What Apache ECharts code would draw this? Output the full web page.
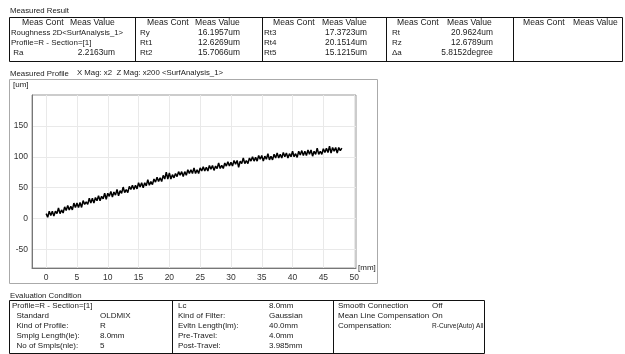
<!DOCTYPE html>
<html>
<head>
<meta charset="utf-8">
<script src="https://cdn.jsdelivr.net/npm/echarts@6/dist/echarts.min.js"></script>
<style>
  html, body { margin: 0; padding: 0; background: #fff; }
  #chart { width: 625px; height: 354px; }
</style>
</head>
<body>
<div id="chart"></div>
<script>
const profileX = [
  0, 0.25, 0.5, 0.75, 1, 1.25, 1.5, 1.75, 2, 2.25, 2.5, 2.75,
  3, 3.25, 3.5, 3.75, 4, 4.25, 4.5, 4.75, 5, 5.25, 5.5, 5.75,
  6, 6.25, 6.5, 6.75, 7, 7.25, 7.5, 7.75, 8, 8.25, 8.5, 8.75,
  9, 9.25, 9.5, 9.75, 10, 10.25, 10.5, 10.75, 11, 11.25, 11.5, 11.75,
  12, 12.25, 12.5, 12.75, 13, 13.25, 13.5, 13.75, 14, 14.25, 14.5, 14.75,
  15, 15.25, 15.5, 15.75, 16, 16.25, 16.5, 16.75, 17, 17.25, 17.5, 17.75,
  18, 18.25, 18.5, 18.75, 19, 19.25, 19.5, 19.75, 20, 20.25, 20.5, 20.75,
  21, 21.25, 21.5, 21.75, 22, 22.25, 22.5, 22.75, 23, 23.25, 23.5, 23.75,
  24, 24.25, 24.5, 24.75, 25, 25.25, 25.5, 25.75, 26, 26.25, 26.5, 26.75,
  27, 27.25, 27.5, 27.75, 28, 28.25, 28.5, 28.75, 29, 29.25, 29.5, 29.75,
  30, 30.25, 30.5, 30.75, 31, 31.25, 31.5, 31.75, 32, 32.25, 32.5, 32.75,
  33, 33.25, 33.5, 33.75, 34, 34.25, 34.5, 34.75, 35, 35.25, 35.5, 35.75,
  36, 36.25, 36.5, 36.75, 37, 37.25, 37.5, 37.75, 38, 38.25, 38.5, 38.75,
  39, 39.25, 39.5, 39.75, 40, 40.25, 40.5, 40.75, 41, 41.25, 41.5, 41.75,
  42, 42.25, 42.5, 42.75, 43, 43.25, 43.5, 43.75, 44, 44.25, 44.5, 44.75,
  45, 45.25, 45.5, 45.75, 46, 46.25, 46.5, 46.75, 47, 47.25, 47.5, 47.75,
  48
]
const profileY = [
  8, 2, 12, 5, 12, 4, 12, 8, 17, 8, 14, 9,
  19, 13, 21, 14, 20, 14, 25, 18, 25, 18, 26, 18,
  29, 23, 27, 23, 33, 25, 33, 25, 34, 29, 37, 29,
  36, 32, 41, 31, 41, 36, 44, 35, 43, 38, 47, 37,
  45, 41, 51, 42, 47, 42, 52, 47, 54, 47, 54, 48,
  58, 51, 58, 50, 58, 53, 63, 54, 60, 55, 64, 59,
  67, 60, 66, 60, 70, 64, 75, 64, 74, 64, 71, 66,
  73, 68, 76, 70, 76, 68, 76, 70, 79, 73, 79, 73,
  82, 73, 79, 73, 82, 77, 84, 77, 83, 77, 86, 80,
  86, 78, 85, 81, 90, 81, 86, 81, 90, 85, 92, 85,
  91, 85, 94, 88, 94, 83, 93, 89, 98, 89, 94, 89,
  98, 93, 100, 93, 99, 93, 102, 96, 102, 93, 101, 96,
  105, 95, 101, 95, 104, 98, 106, 98, 104, 98, 107, 100,
  106, 98, 105, 100, 109, 100, 105, 99, 109, 103, 110, 102,
  109, 102, 111, 104, 111, 101, 109, 104, 114, 104, 109, 104,
  113, 107, 114, 107, 117, 106, 115, 109, 115, 106, 115, 110,
  114
]
const xTicks = [0, 5, 10, 15, 20, 25, 30, 35, 40, 45, 50]
const yTicks = [-50, 0, 50, 100, 150]

// Measured Result table
const resultNames = [
  ['Roughness 2D<SurfAnalysis_1>', 'Profile=R - Section=[1]', ' Ra'],
  ['Ry', 'Rt1', 'Rt2'],
  ['Rt3', 'Rt4', 'Rt5'],
  ['Rt', 'Rz', 'Δa'],
  []
]
const resultValues = [
  ['', '', '2.2163um'],
  ['16.1957um', '12.6269um', '15.7066um'],
  ['17.3723um', '20.1514um', '15.1215um'],
  ['20.9624um', '12.6789um', '5.8152degree'],
  []
]

// Evaluation Condition table
const condNames = [
  ['Profile=R - Section=[1]', '  Standard', '  Kind of Profile:', '  Smplg Length(le):', '  No of Smpls(nle):'],
  ['Lc', 'Kind of Filter:', 'Evltn Length(lm):', 'Pre-Travel:', 'Post-Travel:'],
  ['Smooth Connection', 'Mean Line Compensation', 'Compensation:']
]
const condValues = [
  ['', 'OLDMIX', 'R', '8.0mm', '5'],
  ['8.0mm', 'Gaussian', '40.0mm', '4.0mm', '3.985mm'],
  ['Off', 'On', 'R-Curve(Auto) All']
]

const FONT = '"Liberation Sans", Arial, sans-serif'
const ink = '#1a1a1a'

function txt(x, y, s, align, size, squeeze) {
  return {
    type: 'text', silent: true,
    x: x, y: y, scaleX: squeeze || 1,
    style: {
      x: 0, y: 0, text: s, fill: ink,
      font: (size || 8) + 'px ' + FONT,
      align: align || 'left', verticalAlign: 'middle'
    }
  }
}
function line(x1, y1, x2, y2, color) {
  return {
    type: 'line', silent: true,
    shape: { x1: x1, y1: y1, x2: x2, y2: y2 },
    style: { stroke: color || '#111', lineWidth: 1 }
  }
}

const els = []

// ---- top table
els.push(txt(10, 11, 'Measured Result', 'left', 7.8))
const colLeft = [9, 135, 262, 386, 513]
const labelX = [11, 140, 264, 392]
const valueR = [115, 240, 367, 493]
const headA = [22, 147, 273, 397, 523]
const headB = [70, 195, 322, 447, 573]
const rowY = [33, 43, 53]
els.push({ type: 'rect', silent: true, shape: { x: 9.5, y: 17.5, width: 613, height: 44 },
  style: { fill: 'none', stroke: '#111', lineWidth: 1 } })
colLeft.slice(1).forEach(function (x) { els.push(line(x + 0.5, 17.5, x + 0.5, 61.5)) })
for (let c = 0; c < 5; c++) {
  els.push(txt(headA[c], 23, 'Meas Cont', 'left', 8.6))
  els.push(txt(headB[c], 23, 'Meas Value', 'left', 8.6))
  resultNames[c].forEach(function (s, r) { els.push(txt(labelX[c], rowY[r], s, 'left', 8, r === 0 && c === 0 ? 0.97 : 1)) })
  resultValues[c].forEach(function (s, r) { if (s) els.push(txt(valueR[c], rowY[r], s, 'right', 8.4)) })
}

// ---- chart frame
els.push(txt(10, 74, 'Measured Profile', 'left', 7.8))
els.push(txt(77, 73, 'X Mag: x2  Z Mag: x200 <SurfAnalysis_1>', 'left', 7.8))
els.push({ type: 'rect', silent: true, shape: { x: 9.5, y: 79.5, width: 368, height: 204 },
  style: { fill: 'none', stroke: '#aaa', lineWidth: 1 } })
els.push(txt(13, 85, '[um]', 'left', 8))

// ---- bottom table
els.push(txt(10, 296, 'Evaluation Condition', 'left', 7.8))
const condLeft = [9, 172, 333]
const condLabelX = [12, 178, 338]
const condValueX = [100, 269, 432]
const condRowY = [306, 316, 326, 336, 346]
els.push({ type: 'rect', silent: true, shape: { x: 9.5, y: 300.5, width: 475, height: 53 },
  style: { fill: 'none', stroke: '#111', lineWidth: 1 } })
condLeft.slice(1).forEach(function (x) { els.push(line(x + 0.5, 300.5, x + 0.5, 353.5)) })
for (let c = 0; c < 3; c++) {
  condNames[c].forEach(function (s, r) { els.push(txt(condLabelX[c], condRowY[r], s)) })
  condValues[c].forEach(function (s, r) {
    if (s) els.push(txt(condValueX[c], condRowY[r], s, 'left', 8, s.length > 12 ? 0.82 : 1))
  })
}

const chart = echarts.init(document.getElementById('chart'))
chart.setOption({
  animation: false,
  backgroundColor: '#fff',
  textStyle: { fontFamily: FONT },
  grid: {
    left: 32, right: 269, top: 95, bottom: 86,
    outerBoundsMode: 'none',
    show: true, borderColor: '#999', borderWidth: 1, backgroundColor: '#fff'
  },
  xAxis: {
    type: 'value', min: -2.3, max: 50.3,
    name: '[mm]', nameLocation: 'end', nameGap: 2,
    nameTextStyle: { color: ink, fontSize: 8, verticalAlign: 'middle', align: 'left' },
    axisLine: { show: true, onZero: false, lineStyle: { color: '#777', width: 1 } },
    axisTick: { show: false, customValues: xTicks },
    axisLabel: { customValues: xTicks, color: '#333', fontSize: 8.5, margin: 5 },
    splitLine: { show: true, lineStyle: { color: '#e9e9e9', width: 1 } }
  },
  yAxis: {
    type: 'value', min: -80, max: 200,
    axisLine: { show: true, onZero: false, lineStyle: { color: '#777', width: 1 } },
    axisTick: { show: false, customValues: yTicks },
    axisLabel: { customValues: yTicks, color: '#333', fontSize: 8.5, margin: 4 },
    splitLine: { show: true, lineStyle: { color: '#e9e9e9', width: 1 } }
  },
  series: [{
    type: 'line',
    data: profileX.map(function (x, i) { return [x, profileY[i]] }),
    showSymbol: false,
    lineStyle: { color: '#000', width: 1.5 },
    z: 3
  }],
  graphic: { elements: els }
})
</script>
</body>
</html>
